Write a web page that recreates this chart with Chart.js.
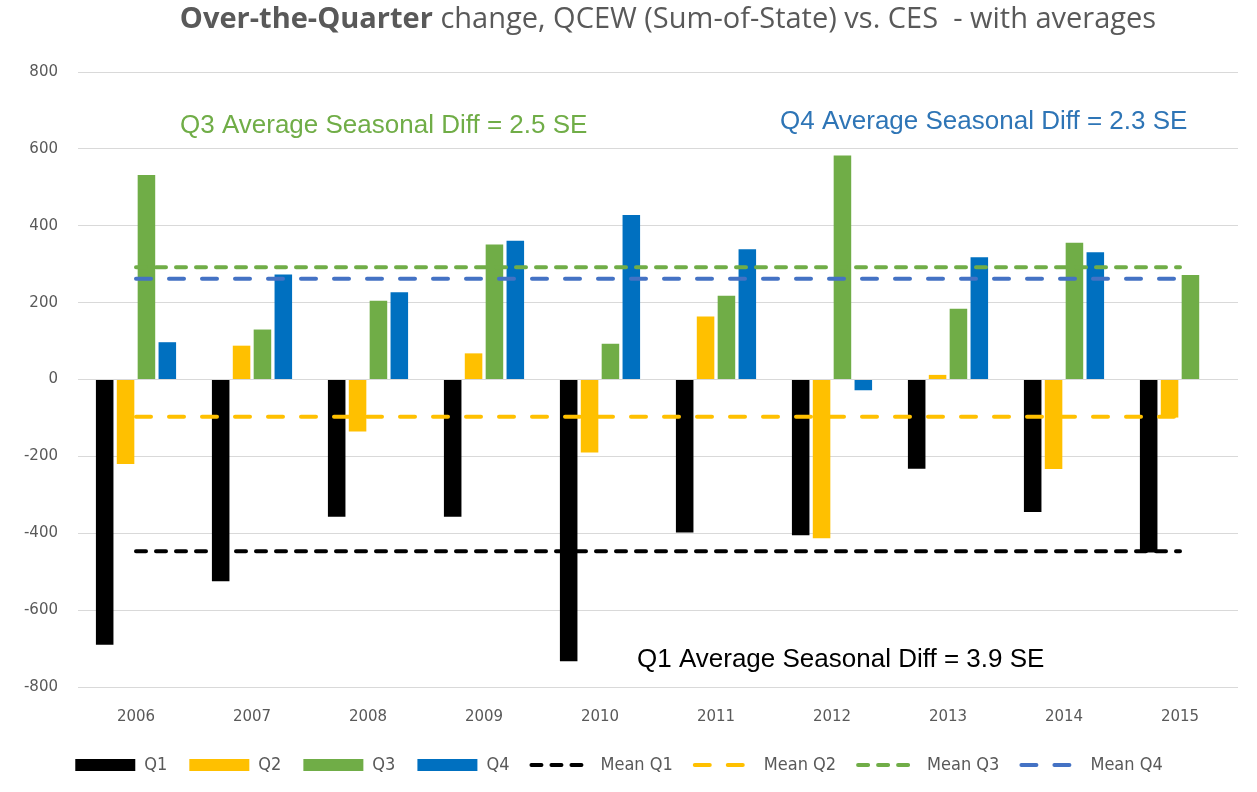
<!DOCTYPE html>
<html>
<head>
<meta charset="utf-8">
<script src="https://cdn.jsdelivr.net/npm/chart.js@4.4.0/dist/chart.umd.min.js"></script>
<style>
  html, body { margin: 0; padding: 0; background: #fff; }
  #wrap { width: 1257px; height: 792px; }
</style>
</head>
<body>
<div id="wrap"><canvas id="myChart" width="1257" height="792"></canvas></div>
<script>
// values
var years = ['2006', '2007', '2008', '2009', '2010', '2011', '2012', '2013', '2014', '2015'];
var q1 = [-690, -525, -357, -357, -733, -398, -405, -232, -345, -450];
var q2 = [-220, 88, -135, 68, -190, 164, -413, 12, -233, -99];
var q3 = [532, 130, 205, 351, 93, 218, 583, 184, 356, 272];
var q4 = [97, 273, 227, 361, 428, 339, -28, 318, 331, null];
var meanQ1 = [-447, -447, -447, -447, -447, -447, -447, -447, -447, -447];
var meanQ2 = [-97, -97, -97, -97, -97, -97, -97, -97, -97, -97];
var meanQ3 = [292, 292, 292, 292, 292, 292, 292, 292, 292, 292];
var meanQ4 = [262, 262, 262, 262, 262, 262, 262, 262, 262, 262];
var yTicks = [800, 600, 400, 200, 0, -200, -400, -600, -800];

var gray = '#595959';
var legendFont = "'DejaVu Sans Condensed', 'Liberation Sans Narrow', 'DejaVu Sans', sans-serif";

function bar(label, data, color) {
    return {
        type: 'bar', label: label, data: data, backgroundColor: color,
        borderWidth: 0, order: 1, pointStyle: 'rect',
        categoryPercentage: 0.72, barPercentage: 0.84
    };
}

function mean(label, data, color, dash) {
    return {
        type: 'line', label: label, data: data, borderColor: color, backgroundColor: color,
        borderWidth: 4, borderDash: dash, borderCapStyle: 'round', pointRadius: 0,
        fill: false, order: 0, pointStyle: 'line'
    };
}

// title and the three text boxes
var textPlugin = {
    id: 'texts',
    afterDraw: function (chart) {
        var ctx = chart.ctx;
        ctx.save();
        ctx.textBaseline = 'middle';
        var bold = 'Over-the-Quarter';
        var rest = ' change, QCEW (Sum-of-State) vs. CES  - with averages';
        ctx.font = "bold 29px 'Open Sans'";
        var wb = ctx.measureText(bold).width;
        ctx.font = "29px 'Open Sans'";
        var wr = ctx.measureText(rest).width;
        var x0 = 668 - (wb + wr) / 2;
        ctx.fillStyle = gray;
        ctx.font = "bold 29px 'Open Sans'";
        ctx.fillText(bold, x0, 20);
        ctx.font = "29px 'Open Sans'";
        ctx.fillText(rest, x0 + wb, 20);

        ctx.font = "26px 'Liberation Sans'";
        ctx.fillStyle = '#70AD47';
        ctx.fillText('Q3 Average Seasonal Diff = 2.5 SE', 180, 126);
        ctx.fillStyle = '#2E75B6';
        ctx.fillText('Q4 Average Seasonal Diff = 2.3 SE', 780, 122);
        ctx.fillStyle = '#000000';
        ctx.fillText('Q1 Average Seasonal Diff = 3.9 SE', 637, 660);
        ctx.restore();
    }
};

new Chart('myChart', {
    data: {
        labels: years,
        datasets: [
            bar('Q1', q1, '#000000'),
            bar('Q2', q2, '#FFC000'),
            bar('Q3', q3, '#70AD47'),
            bar('Q4', q4, '#0070C0'),
            mean('Mean Q1', meanQ1, '#000000', [10, 10]),
            mean('Mean Q2', meanQ2, '#FFC000', [15, 18]),
            mean('Mean Q3', meanQ3, '#70AD47', [10, 10]),
            mean('Mean Q4', meanQ4, '#4472C4', [15, 18])
        ]
    },
    options: {
        responsive: false,
        animation: false,
        layout: { padding: { top: 72, right: 19, bottom: 8, left: 0 } },
        scales: {
            x: {
                grid: { display: false },
                border: { display: false },
                ticks: { color: gray, font: { family: 'DejaVu Sans', size: 15 }, padding: 13 },
                afterFit: function (s) { s.height = 47; }
            },
            y: {
                min: -800, max: 800,
                afterBuildTicks: function (s) { s.ticks = yTicks.map(function (v) { return { value: v }; }); },
                grid: { color: '#D9D9D9', lineWidth: 1, drawTicks: false },
                border: { display: false },
                ticks: { color: gray, font: { family: 'DejaVu Sans', size: 15 }, padding: 20 },
                afterFit: function (s) { s.width = 78; }
            }
        },
        plugins: {
            title: { display: false },
            tooltip: { enabled: false },
            legend: {
                position: 'bottom',
                labels: {
                    usePointStyle: true,
                    pointStyleWidth: 60,
                    boxHeight: 12,
                    padding: 22,
                    color: gray,
                    font: { family: legendFont, size: 18 },
                    sort: function (a, b) { return a.datasetIndex - b.datasetIndex; },
                    generateLabels: function (chart) {
                        var items = Chart.defaults.plugins.legend.labels.generateLabels(chart);
                        items.forEach(function (it) {
                            var ds = chart.data.datasets[it.datasetIndex];
                            if (ds.type === 'line') {
                                it.lineDash = ds.borderDash;
                                it.lineWidth = 4;
                                it.lineCap = 'round';
                                it.strokeStyle = ds.borderColor;
                            } else {
                                it.lineWidth = 0;
                            }
                        });
                        return items;
                    }
                }
            }
        }
    },
    plugins: [textPlugin]
});
</script>
</body>
</html>
